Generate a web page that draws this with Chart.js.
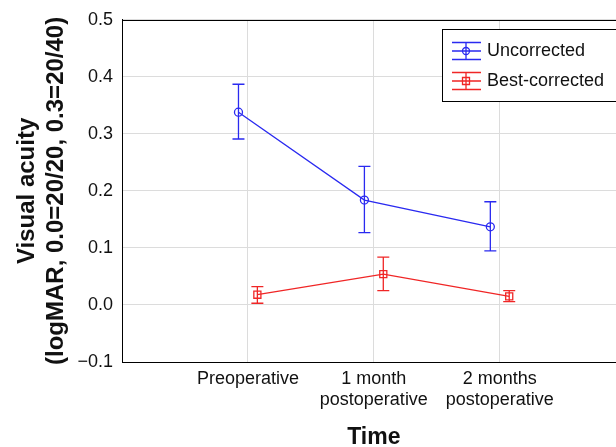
<!DOCTYPE html>
<html>
<head>
<meta charset="utf-8">
<script src="https://cdn.jsdelivr.net/npm/chart.js@4.4.1/dist/chart.umd.min.js"></script>
<style>
  html, body { margin: 0; padding: 0; overflow: hidden; background: #fff; }
  canvas { display: block; }
</style>
</head>
<body>
<canvas id="acuityChart" width="632" height="447"></canvas>
<script>
// ---------- DATA ----------
const timePoints = [["Preoperative"], ["1 month", "postoperative"], ["2 months", "postoperative"]];

const uncorrected = [0.338, 0.184, 0.137];
const uncorrectedHigh = [0.387, 0.243, 0.181];
const uncorrectedLow = [0.291, 0.127, 0.095];

const bestCorrected = [0.018, 0.054, 0.015];
const bestCorrectedHigh = [0.032, 0.084, 0.025];
const bestCorrectedLow = [0.003, 0.025, 0.006];

const yTicks = [-0.1, 0.0, 0.1, 0.2, 0.3, 0.4, 0.5];

const seriesColors = ["#2a2af0", "#f02626"];
const FONT = "'Liberation Sans', Arial, Helvetica, sans-serif";

Chart.defaults.font.family = FONT;
Chart.defaults.color = "#111";

// points are nudged sideways so the two series don't overlap
function buildPoints(vals, lows, highs, shift) {
  return vals.map((v, i) => ({ x: i + shift, y: v, low: lows[i], high: highs[i] }));
}

// ---------- ERROR BARS ----------
const errorBars = {
  id: "errorBars",
  afterDatasetsDraw(chart) {
    const { ctx, scales: { x, y } } = chart;
    chart.data.datasets.forEach((ds, i) => {
      ctx.save();
      ctx.strokeStyle = seriesColors[i];
      ctx.lineWidth = 1.3;
      ds.data.forEach((pt) => {
        const px = x.getPixelForValue(pt.x);
        const top = y.getPixelForValue(pt.high);
        const bot = y.getPixelForValue(pt.low);
        ctx.beginPath();
        ctx.moveTo(px, top); ctx.lineTo(px, bot);
        ctx.moveTo(px - 6, top); ctx.lineTo(px + 6, top);
        ctx.moveTo(px - 6, bot); ctx.lineTo(px + 6, bot);
        ctx.stroke();
      });
      ctx.restore();
    });
  }
};

// ---------- FRAME + LEGEND ----------
const frameLegend = {
  id: "frameLegend",
  afterDraw(chart) {
    const { ctx, chartArea } = chart;
    ctx.save();
    ctx.strokeStyle = "#000";
    ctx.lineWidth = 1;
    ctx.beginPath();
    ctx.moveTo(chartArea.left, Math.round(chartArea.top) + 0.5);
    ctx.lineTo(chartArea.right, Math.round(chartArea.top) + 0.5);
    ctx.stroke();

    // legend box
    ctx.fillStyle = "#fff";
    ctx.fillRect(442.5, 29.5, 200, 72);
    ctx.strokeRect(442.5, 29.5, 200, 72);

    chart.data.datasets.forEach((ds, i) => {
      const cy = 51 + i * 30;
      const cx = 466;
      ctx.strokeStyle = seriesColors[i];
      ctx.lineWidth = 1.3;
      ctx.beginPath();
      [-8.5, 0, 8.5].forEach((d) => { ctx.moveTo(452, cy + d); ctx.lineTo(481, cy + d); });
      ctx.moveTo(cx, cy - 8.5); ctx.lineTo(cx, cy + 8.5);
      ctx.stroke();
      ctx.beginPath();
      if (ds.pointStyle === "rect") ctx.rect(cx - 3.5, cy - 3.5, 7, 7);
      else ctx.arc(cx, cy, 3.5, 0, Math.PI * 2);
      ctx.stroke();

      ctx.fillStyle = "#111";
      ctx.font = "18px " + FONT;
      ctx.textBaseline = "middle";
      ctx.fillText(ds.label, 487, cy);
    });
    ctx.restore();
  }
};

// ---------- CHART ----------
const ctx = document.getElementById("acuityChart").getContext("2d");

new Chart(ctx, {
  type: "scatter",
  data: {
    datasets: [
      {
        label: "Uncorrected",
        data: buildPoints(uncorrected, uncorrectedLow, uncorrectedHigh, -0.075),
        showLine: true,
        borderColor: seriesColors[0],
        backgroundColor: "transparent",
        borderWidth: 1.3,
        pointStyle: "circle",
        pointRadius: 4,
        pointBorderWidth: 1.3
      },
      {
        label: "Best-corrected",
        data: buildPoints(bestCorrected, bestCorrectedLow, bestCorrectedHigh, 0.075),
        showLine: true,
        borderColor: seriesColors[1],
        backgroundColor: "transparent",
        borderWidth: 1.3,
        pointStyle: "rect",
        pointRadius: 5,
        pointBorderWidth: 1.3
      }
    ]
  },
  options: {
    responsive: false,
    animation: false,
    layout: { padding: { top: 16, right: 0, left: 0, bottom: 0 } },
    plugins: {
      legend: { display: false },
      tooltip: { enabled: false }
    },
    scales: {
      x: {
        type: "linear",
        min: -1,
        max: 3,
        afterBuildTicks: (scale) => { scale.ticks = timePoints.map((_, i) => ({ value: i })); },
        afterFit: (scale) => { scale.height = 85; },
        ticks: {
          font: { size: 18, lineHeight: 1.2 },
          padding: 6,
          maxRotation: 0,
          autoSkip: false,
          callback: (v) => timePoints[Math.round(v)]
        },
        grid: { color: "#dcdcdc", drawTicks: false },
        border: { color: "#000", width: 1 },
        title: {
          display: true,
          text: "Time",
          font: { size: 23, weight: "bold", lineHeight: 0.8 },
          padding: { top: 0, bottom: 0 }
        }
      },
      y: {
        min: -0.1,
        max: 0.5,
        afterBuildTicks: (scale) => { scale.ticks = yTicks.map((v) => ({ value: v })); },
        afterFit: (scale) => { scale.width = 122; },
        ticks: {
          font: { size: 18 },
          padding: 9,
          callback: (v) => {
            const r = Math.round(v * 10) / 10;
            return (r < 0 ? "\u2212" : "") + Math.abs(r).toFixed(1);
          }
        },
        grid: { color: "#dcdcdc", drawTicks: false },
        border: { color: "#000", width: 1 },
        title: {
          display: true,
          text: ["Visual acuity", "(logMAR, 0.0=20/20, 0.3=20/40)"],
          font: { size: 24, weight: "bold", lineHeight: 1.2 },
          padding: { top: 13, bottom: 0 }
        }
      }
    }
  },
  plugins: [errorBars, frameLegend]
});
</script>
</body>
</html>
